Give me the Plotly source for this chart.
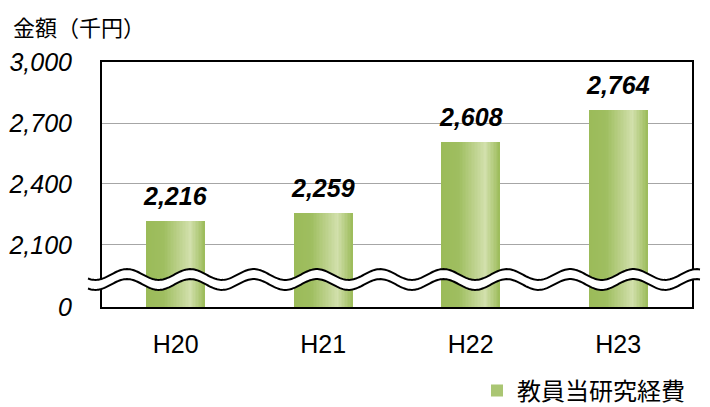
import math
import plotly.graph_objects as go

# ---- data ----
categories = ["H20", "H21", "H22", "H23"]
values = [2216, 2259, 2608, 2764]
value_labels = ["2,216", "2,259", "2,608", "2,764"]
series_name = "教員当研究経費"
y_title = "金額（千円）"
tick_vals = [1795, 2100, 2400, 2700, 3000]
tick_text = ["0", "2,100", "2,400", "2,700", "3,000"]

# ---- geometry: page pixels, page body has an 8px margin ----
OFF = 8
W, H = 710 - OFF, 407 - OFF
PL, PT, PR, PB = 102, 62, 692, 307
L, T = PL - OFF, PT - OFF
R, B = W - (PR - OFF), H - (PB - OFF)
PW, PH = W - L - R, H - T - B

DARK = (155, 187, 89)
LIGHT = (210, 224, 172)


def lerp(c1, c2, t):
    return tuple(round(a + (b - a) * t) for a, b in zip(c1, c2))


def grad_color(t):
    if t < 0.3:
        c = lerp(DARK, lerp(DARK, LIGHT, 0.08), t / 0.3)
    elif t < 0.74:
        c = lerp(lerp(DARK, LIGHT, 0.08), LIGHT, (t - 0.3) / 0.44)
    else:
        c = lerp(LIGHT, DARK, (t - 0.74) / 0.26)
    return "rgb(%d,%d,%d)" % c


fig = go.Figure()

BAR_W = 0.4
fig.add_trace(go.Bar(x=categories, y=values, width=BAR_W, name=series_name,
                     marker=dict(color="rgb(170,198,115)", line=dict(width=0)),
                     showlegend=True, hoverinfo="skip"))
N = 40
sw = BAR_W / N
for i in range(N):
    t = (i + 0.5) / N
    fig.add_trace(go.Bar(x=categories, y=values,
                         width=sw * 1.6 if i < N - 1 else sw,
                         offset=-BAR_W / 2 + i * sw,
                         marker=dict(color=grad_color(t), line=dict(width=0)),
                         showlegend=False, hoverinfo="skip"))

for c, v, lab in zip(categories, values, value_labels):
    fig.add_annotation(x=c, y=v, text=lab, showarrow=False, yanchor="bottom",
                       yshift=9,
                       font=dict(family="Liberation Sans, Arial", size=25,
                                 color="black", weight="bold", style="italic"))


def px2paper(px, py):
    return (px - OFF - L) / PW, (T + PH - (py - OFF)) / PH


def wave_y(px, offset):
    return 274.5 + offset - 5.4 * math.cos(2 * math.pi * (px - 127) / 63.3)


xs = [88 + k * 1.5 for k in range(int((700 - 88) / 1.5) + 1)]
up = [px2paper(x, wave_y(x, 0)) for x in xs]
lo = [px2paper(x, wave_y(x, 10)) for x in xs]

fill_path = "M" + " L".join("%.5f,%.5f" % p for p in up) + " L" + \
    " L".join("%.5f,%.5f" % p for p in reversed(lo)) + " Z"
fig.add_shape(type="path", path=fill_path, xref="paper", yref="paper",
              fillcolor="white", line=dict(width=0), layer="above")
for pts in (up, lo):
    fig.add_shape(type="path",
                  path="M" + " L".join("%.5f,%.5f" % p for p in pts),
                  xref="paper", yref="paper", line=dict(color="black", width=2),
                  layer="above")

# axis title (top-left)
tx, ty = px2paper(12, OFF + 1)
fig.add_annotation(x=tx, y=ty, xref="paper", yref="paper", text=y_title,
                   showarrow=False, xanchor="left", yanchor="top",
                   borderpad=0,
                   font=dict(family="Noto Sans CJK JP", size=22, color="black"))

lx, ly = px2paper(690, 391)
fig.update_layout(
    width=W, height=H,
    margin=dict(l=L, r=R, t=T, b=B, autoexpand=False),
    paper_bgcolor="white", plot_bgcolor="white",
    barmode="overlay", bargap=0,
    legend=dict(x=lx, xanchor="right", y=ly, yanchor="middle",
                bgcolor="rgba(0,0,0,0)", borderwidth=0,
                font=dict(family="Noto Sans CJK JP", size=24, color="black"),
                itemwidth=30),
    xaxis=dict(showline=True, linecolor="black", linewidth=2, mirror=True,
               ticks="", showgrid=False, ticklabelstandoff=14,
               tickfont=dict(family="Liberation Sans, Arial", size=25,
                             color="black")),
    yaxis=dict(range=[tick_vals[0], tick_vals[-1]], tickvals=tick_vals,
               ticktext=tick_text, showline=True, linecolor="black",
               linewidth=2, mirror=True, ticks="", showgrid=True,
               gridcolor="#A6A6A6", gridwidth=1, zeroline=False,
               ticklabelstandoff=23,
               tickfont=dict(family="Liberation Sans, Arial", size=25,
                             color="black", style="italic")),
)

fig.write_html("out.html")
